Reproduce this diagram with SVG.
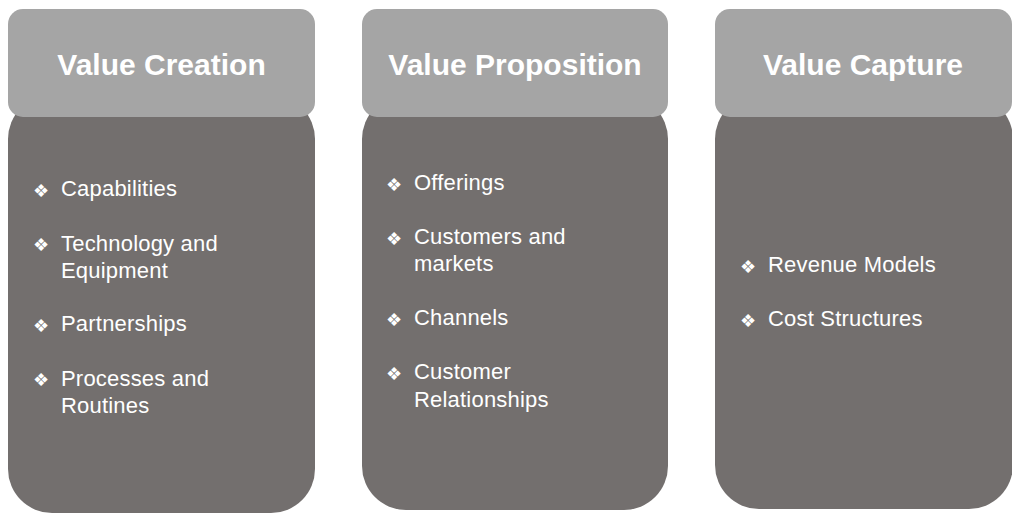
<svg xmlns="http://www.w3.org/2000/svg" width="1012" height="514" viewBox="0 0 1012 514">
<style>
.body{fill:#736f6e}
.head{fill:#a5a5a5}
.title{font-family:"Liberation Sans",Arial,sans-serif;font-weight:bold;font-size:30px;fill:#ffffff;text-anchor:middle}
.item{font-family:"Liberation Sans",Arial,sans-serif;font-size:22px;letter-spacing:0.2px;fill:#ffffff}
.bul{font-family:"DejaVu Sans",sans-serif;font-size:18px;fill:#ffffff}
</style>
<rect width="1012" height="514" fill="#ffffff"/>
<g id="value-creation">
<rect class="body" x="8" y="95" width="307" height="418" rx="44" ry="44"/>
<rect class="head" x="8" y="9" width="307" height="108" rx="15" ry="15"/>
<text class="title" x="161.5" y="74.5">Value Creation</text>
<text class="bul" x="33" y="196.5">❖</text><text class="item" x="61" y="196">Capabilities</text>
<text class="bul" x="33" y="251">❖</text><text class="item" x="61" y="250.5">Technology and</text>
<text class="item" x="61" y="277.5">Equipment</text>
<text class="bul" x="33" y="331.5">❖</text><text class="item" x="61" y="331">Partnerships</text>
<text class="bul" x="33" y="386">❖</text><text class="item" x="61" y="385.5">Processes and</text>
<text class="item" x="61" y="412.5">Routines</text>
</g>
<g id="value-proposition">
<rect class="body" x="362" y="95" width="306" height="415" rx="44" ry="44"/>
<rect class="head" x="362" y="9" width="306" height="108" rx="15" ry="15"/>
<text class="title" x="515" y="74.5">Value Proposition</text>
<text class="bul" x="386" y="190.5">❖</text><text class="item" x="414" y="190">Offerings</text>
<text class="bul" x="386" y="244.5">❖</text><text class="item" x="414" y="244">Customers and</text>
<text class="item" x="414" y="271">markets</text>
<text class="bul" x="386" y="325.5">❖</text><text class="item" x="414" y="325">Channels</text>
<text class="bul" x="386" y="379.5">❖</text><text class="item" x="414" y="379">Customer</text>
<text class="item" x="414" y="406.5">Relationships</text>
</g>
<g id="value-capture">
<rect class="body" x="715" y="95" width="298" height="414" rx="44" ry="44"/>
<rect class="head" x="715" y="9" width="297" height="108" rx="15" ry="15"/>
<text class="title" x="863" y="74.5">Value Capture</text>
<text class="bul" x="740" y="272.5">❖</text><text class="item" x="768" y="272">Revenue Models</text>
<text class="bul" x="740" y="326.5">❖</text><text class="item" x="768" y="326">Cost Structures</text>
</g>
<g id="connectors"/>
</svg>
